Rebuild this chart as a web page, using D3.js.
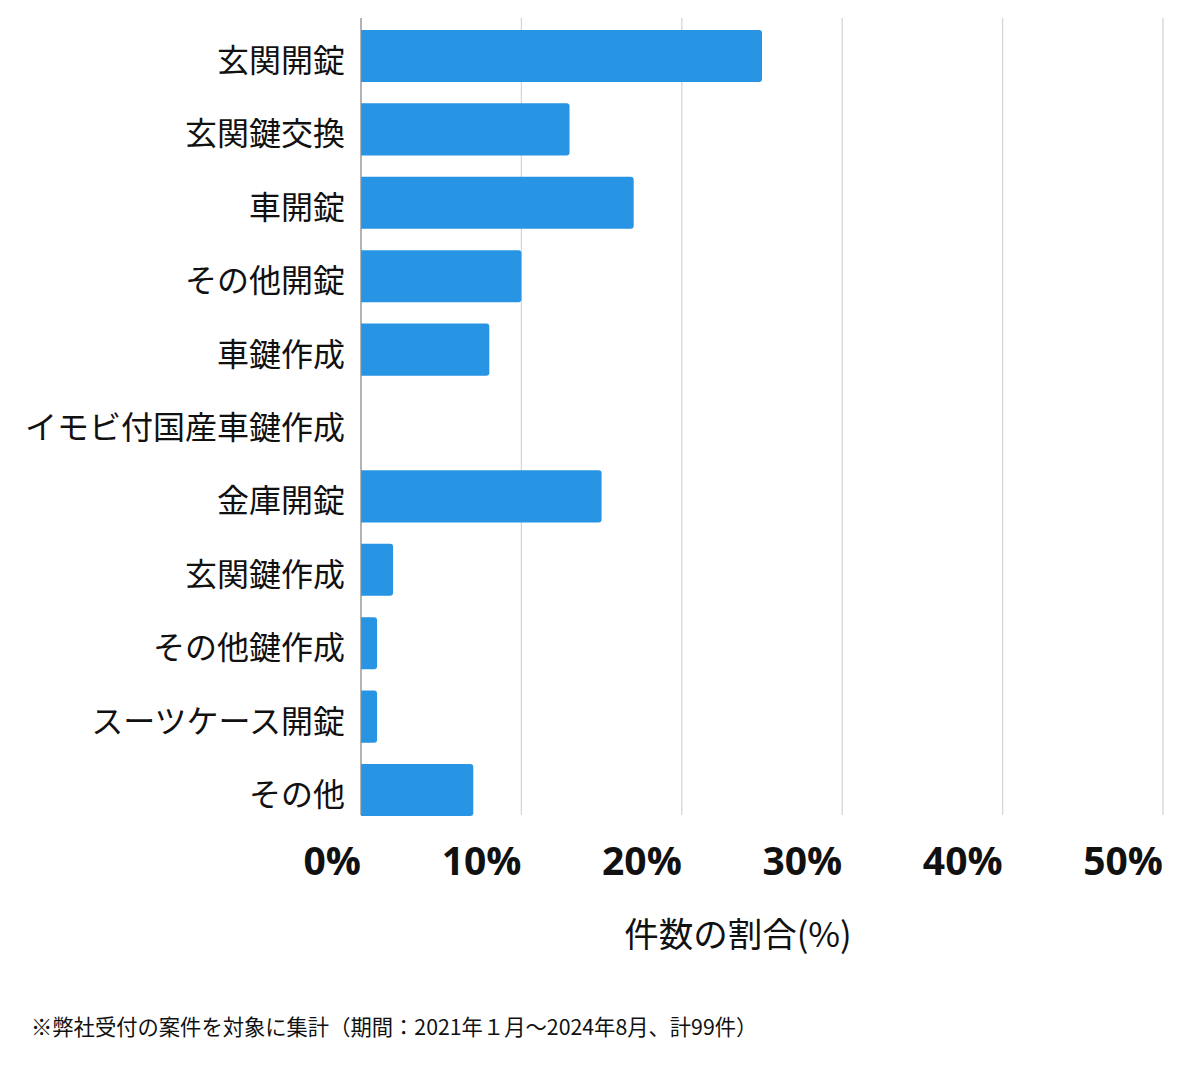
<!DOCTYPE html>
<html><head><meta charset="utf-8">
<script src="https://cdn.jsdelivr.net/npm/d3@7"></script>
<style>
html,body{margin:0;padding:0;background:#fff;}
svg{display:block;}
</style></head>
<body>
<svg id="chart" width="1200" height="1069"></svg>
<script>
const categories = ["玄関開錠","玄関鍵交換","車開錠","その他開錠","車鍵作成","イモビ付国産車鍵作成","金庫開錠","玄関鍵作成","その他鍵作成","スーツケース開錠","その他"];
const values = [25, 13, 17, 10, 8, 0, 15, 2, 1, 1, 7];
const tickValues = [0, 10, 20, 30, 40, 50];
const axisTitle = "件数の割合(%)";
const footnote = "※弊社受付の案件を対象に集計（期間：2021年１月〜2024年8月、計99件）";

(function () {
const svg = d3.select("#chart");
const pl = 361, pr = 1163, pt = 18, pb = 815;
const x = d3.scaleLinear().domain([0, 50]).range([pl, pr]);
const y = d3.scaleBand().domain(categories).range([19.3, 826.7]).paddingInner(0.29).paddingOuter(0.145);
const jp = "'Noto Sans CJK JP','Noto Sans',sans-serif";

// gridlines
svg.append("g").selectAll("line").data(tickValues.filter(d => d > 0)).join("line")
  .attr("x1", d => x(d)).attr("x2", d => x(d))
  .attr("y1", pt).attr("y2", pb)
  .attr("stroke", "#d6d6d6").attr("stroke-width", 1.3);

// bars with rounded right corners
const r = 3;
svg.append("g").selectAll("path").data(categories.map((c, i) => ({c, v: values[i]})).filter(d => d.v > 0)).join("path")
  .attr("d", d => {
    const x0 = x(0), x1 = x(d.v), y0 = y(d.c), h = y.bandwidth();
    return `M${x0},${y0}H${x1 - r}Q${x1},${y0} ${x1},${y0 + r}V${y0 + h - r}Q${x1},${y0 + h} ${x1 - r},${y0 + h}H${x0}Z`;
  })
  .attr("fill", "#2794e4");

// y axis line
svg.append("line").attr("x1", x(0)).attr("x2", x(0)).attr("y1", pt).attr("y2", pb)
  .attr("stroke", "#8a8a8a").attr("stroke-width", 1.3);

// category labels
svg.append("g").selectAll("text").data(categories).join("text")
  .attr("x", 345).attr("y", d => y(d) + y.bandwidth() / 2 + 16)
  .attr("text-anchor", "end")
  .attr("font-family", jp).attr("font-size", 32).attr("font-weight", 400)
  .attr("fill", "#111").text(d => d);

// tick labels
svg.append("g").selectAll("text").data(tickValues).join("text")
  .attr("x", d => x(d)).attr("y", 875)
  .attr("text-anchor", "end")
  .attr("font-family", "'Open Sans','Noto Sans',sans-serif").attr("font-size", 39).attr("font-weight", 700)
  .attr("fill", "#111").text(d => d + "%");

// axis title
svg.append("text").attr("x", 738).attr("y", 947).attr("text-anchor", "middle")
  .attr("font-family", jp).attr("font-size", 34.5).attr("fill", "#111").text(axisTitle);

// footnote
svg.append("text").attr("x", 31).attr("y", 1035)
  .attr("font-family", jp).attr("font-size", 21.3).attr("fill", "#111").text(footnote);
})();
</script>
</body></html>
